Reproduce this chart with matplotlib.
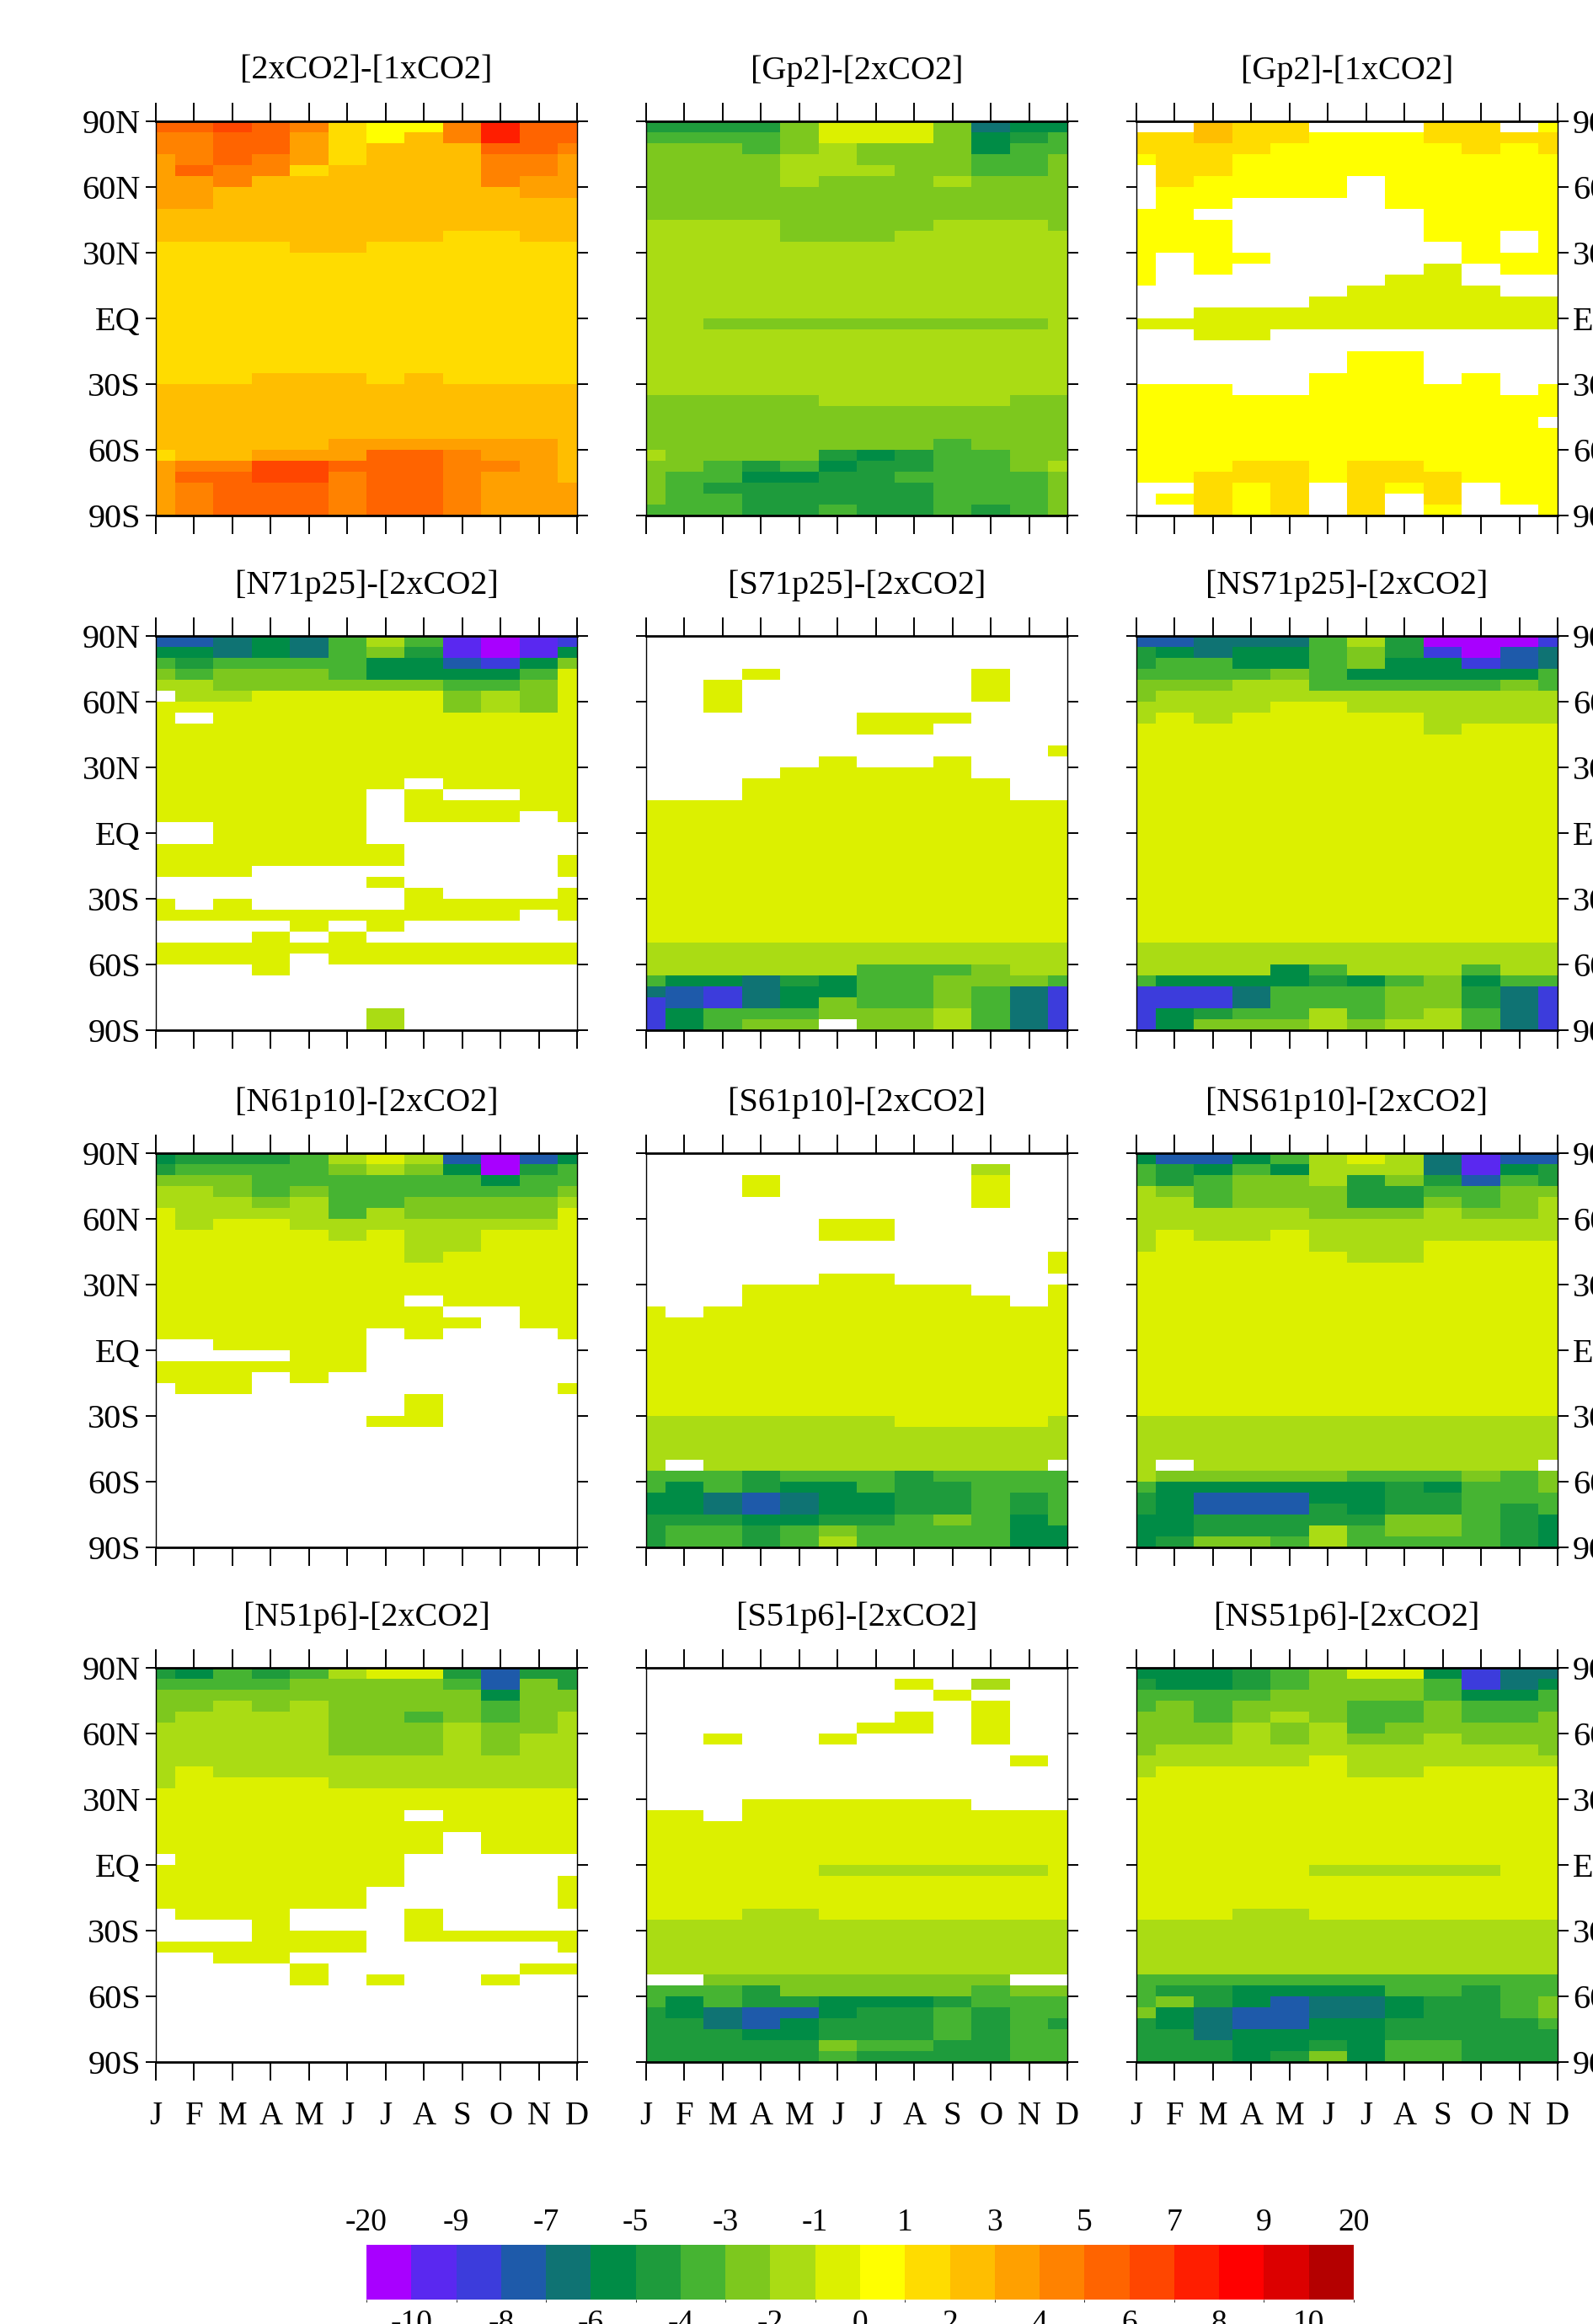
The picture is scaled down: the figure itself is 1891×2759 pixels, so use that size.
import numpy as np
import matplotlib
matplotlib.use('Agg')
import matplotlib.pyplot as plt
from matplotlib.colors import ListedColormap, BoundaryNorm
from matplotlib.cm import ScalarMappable
from matplotlib.transforms import blended_transform_factory

plt.rcParams['font.family'] = ['Liberation Serif', 'DejaVu Serif']

##################################################
# axes / scale
months = ['J', 'F', 'M', 'A', 'M', 'J', 'J', 'A', 'S', 'O', 'N', 'D']
lat_edges = np.arange(90, -91, -5)          # 36 bands of 5 deg, north -> south
lat_ticks = [90, 60, 30, 0, -30, -60, -90]
lat_labels = ['90N', '60N', '30N', 'EQ', '30S', '60S', '90S']

bounds = [-20, -10, -9, -8, -7, -6, -5, -4, -3, -2, -1, 0,
          1, 2, 3, 4, 5, 6, 7, 8, 9, 10, 20]
colors = ['#A800FF', '#5A28F0', '#3C3CDC', '#1E5AAA', '#0F7373', '#008C46',
          '#1E9B3C', '#46B432', '#7DC81E', '#AADC14', '#DCF000', '#FFFF00',
          '#FFDC00', '#FFBE00', '#FFA000', '#FF8200', '#FF6400', '#FF4600',
          '#FF1E00', '#FF0000', '#DC0000', '#B40000']

# one letter per colour class (a = lowest class), '.' = not significant
codes = 'abcdefghijklmnopqrstuv'
class_value = {c: 0.5 * (bounds[i] + bounds[i + 1]) for i, c in enumerate(codes)}

##################################################
# one string per month (J..D), latitude bands 90N -> 90S,
# run-length written ("k12" = twelve bands of class k)
d_2x_1x = ["q p2 o5 n3 m13 n6 m o5", "q p3 q o3 n3 m13 n7 p q p3",
           "r q3 p2 n5 m13 n7 p q4", "q3 p2 n6 m12 n7 o r2 q3",
           "p o3 m n7 m11 n7 o r2 q3", "m4 n8 m11 n6 o2 q p4",
           "l2 n9 m13 n5 o q6", "l n10 m12 n6 o q6",
           "p2 n8 m14 n5 o p6", "s2 q p3 n4 m14 n5 o2 p o4",
           "q3 p2 o2 n4 m13 n5 o7", "q2 p o4 n4 m13 n9 o3"]

d_gp2_2x = ["g h i7 j16 i5 j i4 h", "g h i7 j16 i7 h4",
            "g h i7 j9 i j6 i6 h2 g h2", "g h2 i6 j9 i j6 i6 g f g3",
            "i3 j3 i5 j7 i j6 i6 h f g3", "k2 j3 i6 j7 i j7 i4 g f g3 h",
            "k2 i2 j i6 j7 i j7 i4 f g5", "k2 i8 j8 i j7 i4 g2 h g3",
            "i5 j i3 j9 i j7 i3 h7", "e f2 h2 i4 j9 i j7 i4 h5 g",
            "f g h3 i4 j9 i j6 i7 h4", "f h2 i7 j15 i6 j i4"]

d_gp2_1x = [". m2 l .4 l7 .3 k .5 l9 .3", ". m5 l6 .6 k .5 l9 . l .",
            "n2 m3 l3 . l5 .3 k3 .4 l8 m4", "m3 l4 .5 l .4 k3 .5 l6 m2 l3",
            "m2 l5 .10 k2 .6 l6 m5", ". l6 .9 k3 .4 l10 .3",
            ". l4 .10 k4 .2 l10 m5", ". l7 .6 k5 .2 l10 m2 l .2",
            "m2 l9 .2 k6 .5 l8 m3 l", "m3 l10 .2 k4 .4 l10 .3",
            ". m l8 .2 l2 .2 k3 .6 l10 .", "l m2 l11 .2 k3 .5 l3 . l8"]

d_n71 = ["d f h i j . k11 .2 k3 .2 k2 .2 k2 .6",
         "d f g h j2 k . k9 .2 k3 .3 k .2 k2 .6",
         "e2 h i2 j k16 .2 k2 .2 k2 .6", "f2 h i2 k16 .4 k . k4 .5",
         "e2 h i2 k16 .4 k2 . k .7", "h4 i k16 .4 k . k3 .6",
         "j i f2 i k9 .5 k2 . k .2 k2 . k2 .4 j2",
         "h g f2 i k8 . k3 .6 k3 .2 k2 .6",
         "b2 d f h i2 k7 . k2 .7 k2 .2 k2 .6",
         "a2 c f h j2 k7 . k2 .7 k2 .2 k2 .6",
         "b2 f h i3 k9 .8 k .3 k2 .6", "c f i k14 .3 k2 . k3 .2 k2 .6"]

d_s71 = [".15 k13 j3 h e c3", ".15 k13 j3 f d2 f2",
         ".4 k3 .8 k13 j3 f c2 h2", ".3 k .9 k15 j3 e3 h i",
         ".12 k16 j3 g f2 h i", ".11 k17 j3 f2 i2 .",
         ".7 k2 .3 k16 j2 h4 i2", ".7 k2 .3 k16 j2 h4 i2",
         ".7 k .3 k17 j2 h i3 j2", ".3 k3 .7 k15 j2 i2 h4",
         ".15 k13 j3 i e4", ".10 k .4 k13 j3 h c4"]

d_ns71 = ["d g2 h i2 j2 k20 j3 h c4", "d f h2 i j2 k21 j3 f c2 f2",
          "e2 h2 i j3 k20 j3 f c2 g i", "e f2 h j3 k21 j3 f e2 h i",
          "e f2 i j2 k22 j2 f2 h3 i", "h5 j k22 j2 h g h2 j2",
          "j i2 f h j2 k21 j3 f h3 i", "g2 f2 h j2 k21 j3 h i3 j",
          "a c f2 h j4 k19 j3 i3 j2", "a2 c f h j3 k20 j2 h f g2 h2",
          "a d2 f i j3 k20 j3 h e4", "c e2 h2 j3 k20 j3 h c4"]

d_n61 = ["f g i j2 k12 .2 k2 .15", "g h i j4 k10 .2 k3 .14",
         "g h i2 j2 k12 . k3 .14", "g h3 i j k12 . k .16",
         "h3 i j3 k14 .15", "j i h4 j2 k12 .16",
         "k j h3 j2 k9 .8 k .11", "j i h2 i2 j4 k3 . k3 .5 k3 .11",
         "d f h2 i2 j3 k5 . k .20", "a2 f h i2 j k7 .22",
         "d g h2 i2 j k9 .20", "f h2 i j k12 .4 k .14"]

d_s61 = [".14 k10 j5 h2 f2 g3", ".15 k9 j4 . h f3 g h2",
         ".14 k10 j5 h2 e2 g h2", ".2 k2 .8 k12 j5 g2 d2 f g2",
         ".12 k12 j5 h f e2 f h2", ".6 k2 .3 k13 j5 h f3 g i j",
         ".6 k2 .3 k13 j5 h2 f2 g h2", ".12 k13 j4 g4 h3",
         ".12 k13 j4 h g3 i h2", ". j k3 .8 k12 j4 h7",
         ".14 k11 j4 h2 g2 f3", ".9 k2 . k12 j4 . h5 f2"]

d_ns61 = ["f h2 j6 k15 j6 h g2 f3", "d g2 i j3 k17 j4 . i f5 g",
          "d f h3 j3 k16 j5 i f d2 g2 i", "f h i3 j3 k16 j5 i f d2 g2 i",
          "h f i3 j2 k17 j5 i f d2 g2 h", "j3 i3 j3 k15 j5 i f2 g2 j2",
          "k j g3 i j4 k14 j5 h f3 g h2", "j2 i g2 i j4 k14 j5 h g3 i2 h",
          "e2 g h i j3 k16 j5 h f g2 i2 h", "b2 d h2 i j2 k16 j5 i h6",
          "d f h i3 j2 k16 j5 h3 g4", "d g2 i j4 k16 j4 . i2 h2 f3"]

d_n51 = ["g h i3 j6 k6 . k4 .3 k .10", "f h i2 j5 k14 .2 k .10",
         "h2 i j7 k13 .2 k2 .9", "g h i2 j6 k17 .9",
         "h i2 j7 k12 .2 k2 . k2 .7", "j i7 j3 k11 .2 k2 .10",
         "k i7 j3 k9 .8 k .7", "k i3 h i3 j3 k2 . k3 .5 k3 .11",
         "g h i3 j6 k4 .9 k .11", "d2 f h2 i3 j3 k6 .7 k .3 k .7",
         "g i5 j5 k6 .7 k .2 k .8", "g2 i2 j7 k6 .2 k3 .2 k2 . k .8"]

d_s51 = [".13 k10 j5 . h2 g5", ".13 k10 j5 . h f2 g4",
         ".6 k .7 k9 j5 i h2 e2 g3", ".12 k10 j6 i g2 d2 f g2",
         ".12 k10 j6 i2 g d f2 g2", ".6 k .5 k6 j k4 j5 i2 f2 g2 i h",
         ".5 k .6 k6 j k4 j5 i2 f g3 h g", ". k .2 k2 .6 k6 j k4 j5 i2 f g3 h g",
         ".2 k .9 k6 j k4 j5 i2 g h3 g2", ". j . k4 .6 k5 j k4 j5 i h2 g5",
         ".8 k .4 k5 j k4 j5 . i h6", ".13 k10 j5 . i h2 g h3"]

d_ns51 = ["f g h2 i4 j2 k13 j5 h3 i g4", "f2 h i4 j2 k14 j5 h g i f2 g3",
          "f2 h3 i2 j2 k14 j5 h g2 e3 g2", "g2 h i2 j4 k13 j6 h f2 d2 f3",
          "h2 i2 j i2 j2 k13 j6 h f d3 f2 g", "i5 j3 k10 j k4 j5 h f e2 f2 g i",
          "k i2 h3 i j3 k8 j k4 j5 h f e2 f4", "k i2 h2 i2 j3 k8 j k4 j5 h2 f2 g2 h2",
          "f h2 i3 j3 k9 j k4 j5 h2 g4 h2", "c2 f h2 i2 j2 k9 j k4 j5 h g7",
          "e2 f h2 i2 j2 k14 j5 h4 g4", "e f h2 i4 j k14 j5 h2 i2 h g3"]

titles = ['[2xCO2]-[1xCO2]', '[Gp2]-[2xCO2]', '[Gp2]-[1xCO2]',
          '[N71p25]-[2xCO2]', '[S71p25]-[2xCO2]', '[NS71p25]-[2xCO2]',
          '[N61p10]-[2xCO2]', '[S61p10]-[2xCO2]', '[NS61p10]-[2xCO2]',
          '[N51p6]-[2xCO2]', '[S51p6]-[2xCO2]', '[NS51p6]-[2xCO2]']
panel_data = [d_2x_1x, d_gp2_2x, d_gp2_1x, d_n71, d_s71, d_ns71,
              d_n61, d_s61, d_ns61, d_n51, d_s51, d_ns51]


def decode(col):
    out = ''
    for tok in col.split():
        out += tok[0] * (int(tok[1:]) if len(tok) > 1 else 1)
    if len(out) != 36:
        print('warning: column has', len(out), 'bands:', col)
        out = (out + out[-1] * 36)[:36]
    return out


def panel_grid(cols):
    grid = np.full((36, 12), np.nan)
    for m, col in enumerate(cols):
        for r, ch in enumerate(decode(col)):
            if ch != '.':
                grid[r, m] = class_value[ch]
    return np.ma.masked_invalid(grid)


cmap = ListedColormap(colors)
cmap.set_bad('white')
norm = BoundaryNorm(bounds, cmap.N)

W, H = 1891, 2759
fig = plt.figure(figsize=(W / 100, H / 100), dpi=100)

col_left = [185, 767, 1349]
row_top = [144, 755, 1369, 1980]
aw, ah = 500, 468
x_edges = np.arange(-0.5, 12.0, 1.0)

for k, (title, cols) in enumerate(zip(titles, panel_data)):
    row, col = divmod(k, 3)
    x0, y0 = col_left[col], row_top[row]
    ax = fig.add_axes([x0 / W, 1 - (y0 + ah) / H, aw / W, ah / H])
    ax.pcolormesh(x_edges, lat_edges, panel_grid(cols), cmap=cmap, norm=norm,
                  shading='flat')
    ax.set_xlim(0, 11)
    ax.set_ylim(-90, 90)
    ax.set_xticks(range(12))
    ax.set_xticklabels(months if row == 3 else [])
    ax.set_yticks(lat_ticks)
    ax.set_yticklabels(lat_labels)
    ax.tick_params(axis='x', direction='out', top=True, bottom=True,
                   length=16, width=1.4, labelsize=28, pad=17)
    ax.tick_params(axis='y', direction='out', left=True, right=True,
                   length=9, width=1.4, labelsize=29, pad=4,
                   labelleft=(col == 0), labelright=(col == 2))
    for s in ['top', 'bottom']:
        ax.spines[s].set_linewidth(2.0)
    for s in ['left', 'right']:
        ax.spines[s].set_linewidth(1.0)
    fig.text((x0 + aw / 2) / W, 1 - (y0 - 60) / H, title,
             ha='center', va='center', fontsize=29)

# colour bar, labels alternate above / below
cax = fig.add_axes([435 / W, 1 - 2730 / H, 1172 / W, 65 / H])
cb = fig.colorbar(ScalarMappable(norm=norm, cmap=cmap), cax=cax,
                  orientation='horizontal', boundaries=bounds,
                  spacing='uniform')
cb.outline.set_visible(False)
cb.set_ticks(bounds[1::2])
cb.set_ticklabels([str(v) for v in bounds[1::2]])
cax.tick_params(length=0, labelsize=27, pad=8)
tr = blended_transform_factory(cax.transData, cax.transAxes)
for v in bounds[0::2]:
    cax.text(v, 1.26, str(v), transform=tr, ha='center', va='baseline',
             fontsize=27)

fig.savefig('out.png', dpi=100)
